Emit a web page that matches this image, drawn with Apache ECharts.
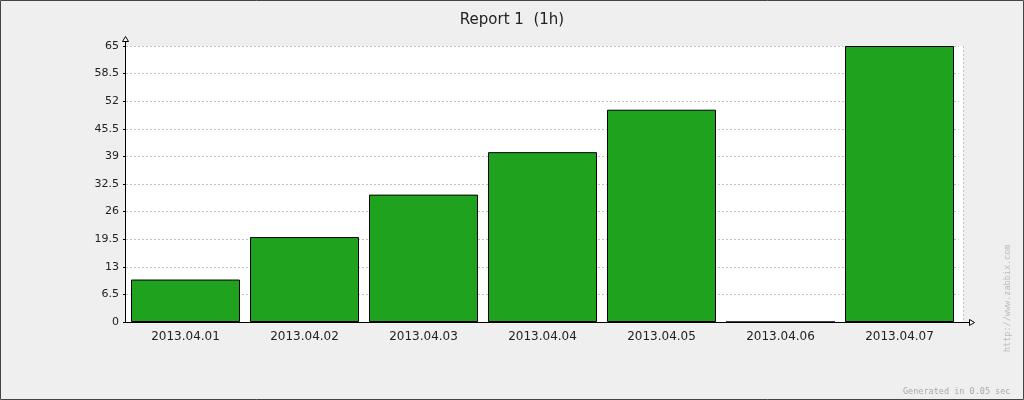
<!DOCTYPE html>
<html><head><meta charset="utf-8">
<script src="https://cdn.jsdelivr.net/npm/echarts@6/dist/echarts.min.js"></script>
<style>html,body{margin:0;padding:0;background:#efefef}#c{width:1024px;height:400px}</style>
</head><body><div id="c"></div>
<script>
const categories = ['2013.04.01','2013.04.02','2013.04.03','2013.04.04','2013.04.05','2013.04.06','2013.04.07'];
const values = [10, 20, 30, 40, 50, 0, 65];
const yTicks = [0, 6.5, 13, 19.5, 26, 32.5, 39, 45.5, 52, 58.5, 65];
const titleText = 'Report 1  (1h)';

const chart = echarts.init(document.getElementById('c'), null, {renderer: 'canvas'});
const font = 'DejaVu Sans';
const L = 126, R = 959, T = 46, B = 322;
chart.setOption({
  backgroundColor: '#efefef',
  animation: false,
  title: {text: titleText, left: 'center', top: 8, textStyle: {fontFamily: font, fontSize: 15, fontWeight: 'normal', color: '#222'}},
  grid: {left: L, right: 1024 - R, top: T, bottom: 400 - B, show: true, backgroundColor: '#ffffff', borderWidth: 0},
  xAxis: {
    type: 'category', data: categories, boundaryGap: true,
    axisLine: {show: false},
    axisTick: {show: false},
    axisLabel: {fontFamily: font, fontSize: 12, color: '#222', margin: 9},
    splitLine: {show: false}
  },
  yAxis: {
    type: 'value', min: yTicks[0], max: yTicks[yTicks.length - 1], interval: yTicks[1] - yTicks[0],
    axisLine: {show: false},
    axisTick: {show: true, length: 3, lineStyle: {color: '#000'}},
    axisLabel: {fontFamily: font, fontSize: 11, color: '#222', margin: 7},
    splitLine: {show: true, lineStyle: {color: '#c4c4c4', type: [2, 2], width: 1}}
  },
  series: [{
    type: 'bar', data: values, barCategoryGap: '8.4%',
    itemStyle: {color: '#1fa31f', borderColor: '#000', borderWidth: 1}
  }],
  graphic: [
    {type: 'rect', shape: {x: R, y: T, width: 4, height: B - T}, style: {fill: '#ffffff'}, z: -1},
    {type: 'line', shape: {x1: 963.5, y1: T, x2: 963.5, y2: B}, style: {stroke: '#c4c4c4', lineDash: [2, 2], lineWidth: 1}, z: 1},
    {type: 'line', shape: {x1: 125.5, y1: B + 0.5, x2: 125.5, y2: 41}, style: {stroke: '#000', lineWidth: 1}, z: 10},
    {type: 'polygon', shape: {points: [[125.5, 36.5], [122.5, 41.5], [128.5, 41.5]]}, style: {fill: '#ffffff', stroke: '#000', lineWidth: 1}, z: 10},
    {type: 'line', shape: {x1: 125, y1: B + 0.5, x2: 969, y2: B + 0.5}, style: {stroke: '#000', lineWidth: 1}, z: 10},
    {type: 'polygon', shape: {points: [[974.5, B + 0.5], [969.5, B - 2.5], [969.5, B + 3.5]]}, style: {fill: '#ffffff', stroke: '#000', lineWidth: 1}, z: 10},
    {type: 'text', left: 903, top: 387, style: {text: 'Generated in 0.05 sec', fontFamily: 'DejaVu Sans Mono', fontSize: 8.5, fill: '#aaaaaa'}},
    {type: 'text', x: 1003, y: 352, rotation: Math.PI / 2, style: {text: 'http://www.zabbix.com', fontFamily: 'DejaVu Sans Mono', fontSize: 8.5, fill: '#bbbbbb'}},
    {type: 'rect', shape: {x: 0.5, y: 0.5, width: 1023, height: 399}, style: {fill: 'none', stroke: '#444', lineWidth: 1}}
  ]
});
</script></body></html>
